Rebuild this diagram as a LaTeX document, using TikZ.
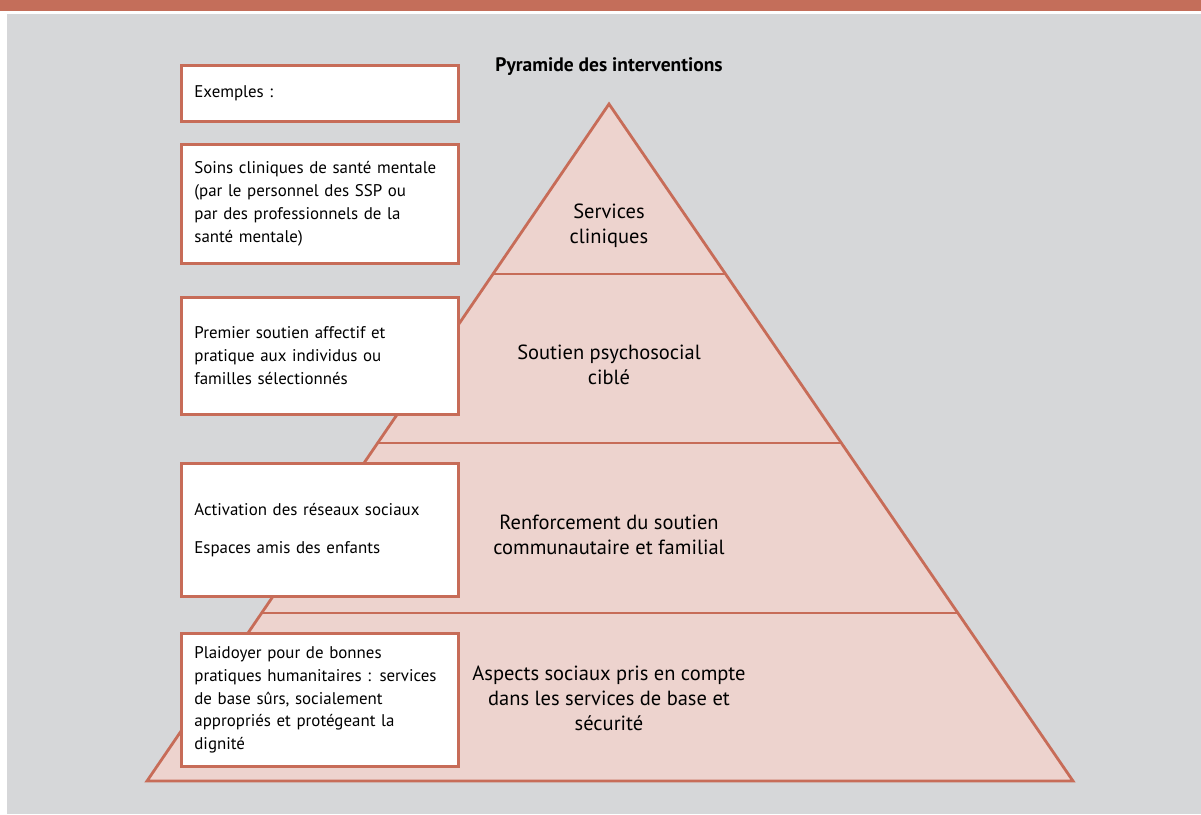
\documentclass[tikz,border=0pt]{standalone}
\usepackage{fontspec}
\setmainfont{PT Sans}
\usetikzlibrary{calc}
\definecolor{barc}{RGB}{196,110,90}
\definecolor{edgec}{RGB}{199,108,88}
\definecolor{pinkc}{RGB}{237,211,206}
\definecolor{greyc}{RGB}{214,215,217}
\tikzset{
  exbox/.style={draw=edgec, line width=2.8pt, fill=white, minimum width=277pt, text width=251pt, align=left, inner sep=0pt, anchor=north west, font=\fontsize{16.9}{22.8}\selectfont},
  pyrtext/.style={align=center, font=\fontsize{20.5}{25}\selectfont},
}
\begin{document}
\begin{tikzpicture}[x=1pt,y=-1pt]
\useasboundingbox (0,0) rectangle (1201,814);
\fill[white] (0,0) rectangle (1201,814);
\fill[barc] (0,0) rectangle (1201,11);
\fill[greyc] (7,14) rectangle (1201,814);
% pyramid
\coordinate (apex) at (609,104);
\coordinate (bl) at (147,781);
\coordinate (br) at (1073,781);
\filldraw[fill=pinkc, draw=edgec, line width=2.8pt, line join=miter] (apex) -- (bl) -- (br) -- cycle;
\foreach \t/\n in {0.2511/a,0.5007/b,0.7518/c}{
  \coordinate (L\n) at ($(apex)!\t!(bl)$);
  \coordinate (R\n) at ($(apex)!\t!(br)$);
  \draw[edgec, line width=2.8pt] (L\n) -- (R\n);
}
% title
\node[font=\bfseries\fontsize{19.5}{22}\selectfont, anchor=base] (title) at (609,71) {Pyramide des interventions};
% pyramid labels
\node[pyrtext] (p1) at (609,226) {Services\\cliniques};
\node[pyrtext] (p2) at (609,365) {Soutien psychosocial\\cibl\'e};
\node[pyrtext] (p3) at (609,535) {Renforcement du soutien\\communautaire et familial};
\node[pyrtext] (p4) at (609,698) {Aspects sociaux pris en compte\\dans les services de base et\\s\'ecurit\'e};
% boxes
\node[exbox, minimum height=56pt] (b1) at (180,64) {Exemples :};
\node[exbox, minimum height=119pt] (b2) at (180,143) {Soins cliniques de sant\'e mentale\\(par le personnel des SSP ou\\par des professionnels de la\\sant\'e mentale)};
\node[exbox, minimum height=117pt] (b3) at (180,296) {Premier soutien affectif et\\pratique aux individus ou\\familles s\'electionn\'es};
\node[exbox, minimum height=133pt] (b4) at (180,462) {Activation des r\'eseaux sociaux\\[15pt]Espaces amis des enfants};
\node[exbox, minimum height=133pt] (b5) at (180,632) {Plaidoyer pour de bonnes\\pratiques humanitaires : services\\de base s\^urs, socialement\\appropri\'es et prot\'egeant la\\dignit\'e};
\end{tikzpicture}
\end{document}
